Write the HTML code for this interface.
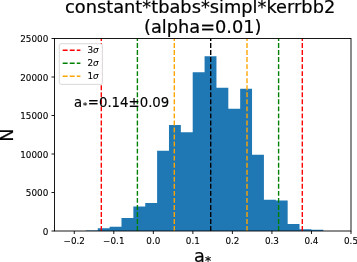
<!DOCTYPE html>
<html><head><meta charset="utf-8"><title>histogram</title>
<style>html,body{margin:0;padding:0;background:#fff;}svg{display:block;}text{font-family:"DejaVu Sans","Liberation Sans",sans-serif;fill:#000;stroke:#000;stroke-width:0.1px;}text.big{stroke-width:0.2px;}</style></head><body>
<svg width="357" height="262" viewBox="0 0 357 262">
<rect x="0" y="0" width="357" height="262" fill="#ffffff"/>
<path fill="#1f77b4" d="M85.90 231.00 L85.90 230.40 L97.77 230.40 L97.77 228.30 L109.64 228.30 L109.64 226.65 L121.50 226.65 L121.50 218.00 L133.37 218.00 L133.37 206.60 L145.24 206.60 L145.24 202.95 L157.11 202.95 L157.11 150.80 L168.98 150.80 L168.98 125.10 L180.84 125.10 L180.84 132.25 L192.71 132.25 L192.71 72.20 L204.58 72.20 L204.58 56.25 L216.45 56.25 L216.45 87.80 L228.32 87.80 L228.32 108.80 L240.18 108.80 L240.18 88.80 L252.05 88.80 L252.05 154.70 L263.92 154.70 L263.92 199.65 L275.79 199.65 L275.79 200.60 L287.66 200.60 L287.66 224.10 L299.52 224.10 L299.52 229.30 L311.39 229.30 L311.39 229.80 L323.26 229.80 L323.26 231.00 Z"/>
<line x1="101.3" y1="231.0" x2="101.3" y2="38.5" stroke="#ff0000" stroke-width="1.38" stroke-dasharray="4.92 2.12"/>
<line x1="302.3" y1="231.0" x2="302.3" y2="38.5" stroke="#ff0000" stroke-width="1.38" stroke-dasharray="4.92 2.12"/>
<line x1="137.4" y1="231.0" x2="137.4" y2="38.5" stroke="#008000" stroke-width="1.38" stroke-dasharray="4.92 2.12"/>
<line x1="278.6" y1="231.0" x2="278.6" y2="38.5" stroke="#008000" stroke-width="1.38" stroke-dasharray="4.92 2.12"/>
<line x1="174.3" y1="231.0" x2="174.3" y2="38.5" stroke="#ffa500" stroke-width="1.38" stroke-dasharray="4.92 2.12"/>
<line x1="247.0" y1="231.0" x2="247.0" y2="38.5" stroke="#ffa500" stroke-width="1.38" stroke-dasharray="4.92 2.12"/>
<line x1="210.7" y1="231.0" x2="210.7" y2="38.5" stroke="#000000" stroke-width="1.38" stroke-dasharray="4.92 2.12"/>
<rect x="54.5" y="38.5" width="296.50" height="192.50" fill="none" stroke="#000" stroke-width="0.9"/>
<g stroke="#000" stroke-width="0.9">
<line x1="74.27" y1="231.0" x2="74.27" y2="234.0"/>
<line x1="113.80" y1="231.0" x2="113.80" y2="234.0"/>
<line x1="153.33" y1="231.0" x2="153.33" y2="234.0"/>
<line x1="192.87" y1="231.0" x2="192.87" y2="234.0"/>
<line x1="232.40" y1="231.0" x2="232.40" y2="234.0"/>
<line x1="271.93" y1="231.0" x2="271.93" y2="234.0"/>
<line x1="311.47" y1="231.0" x2="311.47" y2="234.0"/>
<line x1="351.00" y1="231.0" x2="351.00" y2="234.0"/>
<line x1="54.5" y1="231.00" x2="51.5" y2="231.00"/>
<line x1="54.5" y1="192.50" x2="51.5" y2="192.50"/>
<line x1="54.5" y1="154.00" x2="51.5" y2="154.00"/>
<line x1="54.5" y1="115.50" x2="51.5" y2="115.50"/>
<line x1="54.5" y1="77.00" x2="51.5" y2="77.00"/>
<line x1="54.5" y1="38.50" x2="51.5" y2="38.50"/>
</g>
<g font-size="8.84">
<text x="74.27" y="243.85" text-anchor="middle">−0.2</text>
<text x="113.80" y="243.85" text-anchor="middle">−0.1</text>
<text x="153.33" y="243.85" text-anchor="middle">0.0</text>
<text x="192.87" y="243.85" text-anchor="middle">0.1</text>
<text x="232.40" y="243.85" text-anchor="middle">0.2</text>
<text x="271.93" y="243.85" text-anchor="middle">0.3</text>
<text x="311.47" y="243.85" text-anchor="middle">0.4</text>
<text x="351.00" y="243.85" text-anchor="middle">0.5</text>
<text x="48.3" y="234.50" text-anchor="end">0</text>
<text x="48.3" y="196.00" text-anchor="end">5000</text>
<text x="48.3" y="157.50" text-anchor="end">10000</text>
<text x="48.3" y="119.00" text-anchor="end">15000</text>
<text x="48.3" y="80.50" text-anchor="end">20000</text>
<text x="48.3" y="42.00" text-anchor="end">25000</text>
</g>
<rect x="59.3" y="43.7" width="43.15" height="40.7" rx="1.8" ry="1.8" fill="#fff" fill-opacity="0.97" stroke="#cccccc" stroke-opacity="0.8" stroke-width="0.9"/>
<line x1="62.7" y1="50.20" x2="80.4" y2="50.20" stroke="#ff0000" stroke-width="1.38" stroke-dasharray="4.92 2.12"/>
<text x="87.4" y="53.40" font-size="8.84">3<tspan font-style="italic">σ</tspan></text>
<line x1="62.7" y1="63.20" x2="80.4" y2="63.20" stroke="#008000" stroke-width="1.38" stroke-dasharray="4.92 2.12"/>
<text x="87.4" y="66.30" font-size="8.84">2<tspan font-style="italic">σ</tspan></text>
<line x1="62.7" y1="76.20" x2="80.4" y2="76.20" stroke="#ffa500" stroke-width="1.38" stroke-dasharray="4.92 2.12"/>
<text x="87.4" y="79.20" font-size="8.84">1<tspan font-style="italic">σ</tspan></text>
<text x="74.1" y="107.4" font-size="13.26" style="stroke-width:0.15px">a<tspan font-size="9.3" dx="0.5" dy="1.7" stroke="#000" stroke-width="0.08">*</tspan><tspan dx="0.4" dy="-1.7" font-size="13.3">=0.14±0.09</tspan></text>
<text class="big" x="65" y="13.3" font-size="17.8">constant*tbabs*simpl*kerrbb2</text>
<text class="big" x="144" y="32.9" font-size="17.75">(alpha=0.01)</text>
<text class="big" transform="translate(13.3,135.2) rotate(-90)" text-anchor="middle" font-size="17.68">N</text>
<text class="big" x="193.9" y="261.7" font-size="17.68">a<tspan font-size="12.3" dx="0.2" dy="2.9">*</tspan></text>
</svg></body></html>
